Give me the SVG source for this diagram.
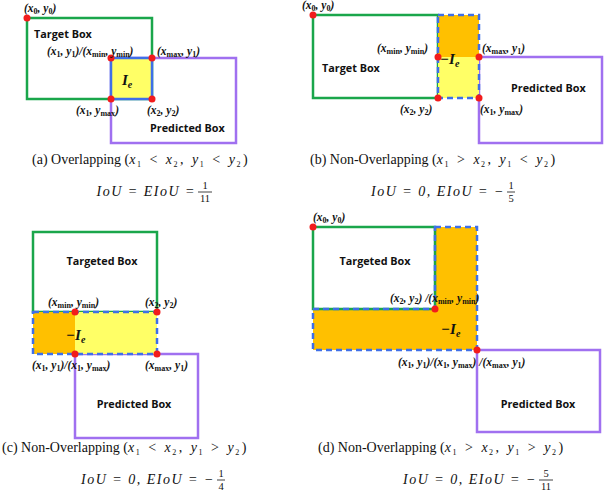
<svg xmlns="http://www.w3.org/2000/svg" width="604" height="498" viewBox="0 0 604 498">
<style>
.g{fill:none;stroke:#1aa64b;stroke-width:2.5}
.p{fill:none;stroke:#a070f0;stroke-width:2.5}
.bs{fill:none;stroke:#3f6fe8;stroke-width:2.5}
.bd{fill:none;stroke:#3f6fe8;stroke-width:2.5;stroke-dasharray:6,4}
.y{fill:#ffff66}.o{fill:#ffc000}
.dot{fill:#f21c1c}
.nm{font-family:"Open Sans","Liberation Sans",sans-serif;font-weight:bold;font-size:10.8px;fill:#111}
.c{font-family:"Liberation Serif",serif;font-style:italic;font-weight:bold;font-size:11.5px;fill:#111}
.ie{font-family:"Liberation Serif",serif;font-style:italic;font-weight:bold;font-size:15px;fill:#111}
.cap{font-family:"Liberation Serif",serif;font-size:14px;fill:#111}
.mm{letter-spacing:2.5px}
.m{font-family:"Liberation Serif",serif;font-style:italic;font-size:14px;letter-spacing:1.5px;fill:#111}
.s{font-size:8px;font-style:normal}
.fr{font-family:"Liberation Serif",serif;font-size:10.5px;fill:#111;text-anchor:middle}
</style>
<g id="panel-a">
<rect class="g" x="27" y="18" width="125" height="81"/>
<rect class="p" x="111" y="58" width="125" height="85"/>
<rect class="y" x="111" y="58" width="41" height="41"/>
<rect class="bs" x="111" y="58" width="41" height="41"/>
<circle class="dot" cx="27" cy="18" r="3.5"/><circle class="dot" cx="111" cy="58" r="3.5"/><circle class="dot" cx="152" cy="58" r="3.5"/><circle class="dot" cx="111" cy="99" r="3.5"/><circle class="dot" cx="152" cy="99" r="3.5"/>
<text class="c" x="24" y="12">(x<tspan class="s" dy="2">0</tspan><tspan dy="-2">, y</tspan><tspan class="s" dy="2">0</tspan><tspan dy="-2">)</tspan></text>
<text class="nm" x="34" y="38">Target Box</text>
<text class="c" x="47" y="55">(x<tspan class="s" dy="2">1</tspan><tspan dy="-2">, y</tspan><tspan class="s" dy="2">1</tspan><tspan dy="-2">)/(x</tspan><tspan class="s" dy="2">min</tspan><tspan dy="-2">, y</tspan><tspan class="s" dy="2">min</tspan><tspan dy="-2">)</tspan></text>
<text class="c" x="157" y="55">(x<tspan class="s" dy="2">max</tspan><tspan dy="-2">, y</tspan><tspan class="s" dy="2">1</tspan><tspan dy="-2">)</tspan></text>
<text class="ie" x="122" y="85">I<tspan font-size="10" dy="3">e</tspan></text>
<text class="c" x="76" y="114">(x<tspan class="s" dy="2">1</tspan><tspan dy="-2">, y</tspan><tspan class="s" dy="2">max</tspan><tspan dy="-2">)</tspan></text>
<text class="c" x="147" y="114">(x<tspan class="s" dy="2">2</tspan><tspan dy="-2">, y</tspan><tspan class="s" dy="2">2</tspan><tspan dy="-2">)</tspan></text>
<text class="nm" x="150" y="132">Predicted Box</text>
</g>
<g id="panel-b">
<rect class="g" x="313" y="15" width="125" height="83"/>
<rect class="p" x="479" y="57" width="123" height="86"/>
<rect class="o" x="438" y="15" width="41" height="42"/>
<rect class="y" x="438" y="57" width="41" height="41"/>
<rect class="bd" x="438" y="15" width="41" height="83"/>
<circle class="dot" cx="313" cy="15" r="3.5"/><circle class="dot" cx="438" cy="57" r="3.5"/><circle class="dot" cx="479" cy="57" r="3.5"/><circle class="dot" cx="438" cy="98" r="3.5"/><circle class="dot" cx="479" cy="98" r="3.5"/>
<text class="c" x="302" y="9">(x<tspan class="s" dy="2">0</tspan><tspan dy="-2">, y</tspan><tspan class="s" dy="2">0</tspan><tspan dy="-2">)</tspan></text>
<text class="c" x="377" y="52">(x<tspan class="s" dy="2">min</tspan><tspan dy="-2">, y</tspan><tspan class="s" dy="2">min</tspan><tspan dy="-2">)</tspan></text>
<text class="c" x="482" y="52">(x<tspan class="s" dy="2">max</tspan><tspan dy="-2">, y</tspan><tspan class="s" dy="2">1</tspan><tspan dy="-2">)</tspan></text>
<text class="ie" x="440" y="64">−I<tspan font-size="10" dy="3">e</tspan></text>
<text class="nm" x="322" y="72">Target Box</text>
<text class="nm" x="511" y="92">Predicted Box</text>
<text class="c" x="400" y="113">(x<tspan class="s" dy="2">2</tspan><tspan dy="-2">, y</tspan><tspan class="s" dy="2">2</tspan><tspan dy="-2">)</tspan></text>
<text class="c" x="480" y="113">(x<tspan class="s" dy="2">1</tspan><tspan dy="-2">, y</tspan><tspan class="s" dy="2">max</tspan><tspan dy="-2">)</tspan></text>
</g>
<g id="panel-c">
<rect class="g" x="33" y="232" width="124" height="80"/>
<rect class="p" x="75" y="354" width="123" height="84"/>
<rect class="o" x="33" y="312" width="42" height="42"/>
<rect class="y" x="75" y="312" width="82" height="42"/>
<rect class="bd" x="33" y="312" width="124" height="42"/>
<circle class="dot" cx="75" cy="312" r="3.5"/><circle class="dot" cx="157" cy="312" r="3.5"/><circle class="dot" cx="75" cy="354" r="3.5"/><circle class="dot" cx="157" cy="354" r="3.5"/>
<text class="nm" x="102" y="265" text-anchor="middle">Targeted Box</text>
<text class="c" x="48" y="306">(x<tspan class="s" dy="2">min</tspan><tspan dy="-2">, y</tspan><tspan class="s" dy="2">min</tspan><tspan dy="-2">)</tspan></text>
<text class="c" x="145" y="306">(x<tspan class="s" dy="2">2</tspan><tspan dy="-2">, y</tspan><tspan class="s" dy="2">2</tspan><tspan dy="-2">)</tspan></text>
<text class="ie" x="66" y="340">−I<tspan font-size="10" dy="3">e</tspan></text>
<text class="c" x="32" y="369">(x<tspan class="s" dy="2">1</tspan><tspan dy="-2">, y</tspan><tspan class="s" dy="2">1</tspan><tspan dy="-2">)/(x</tspan><tspan class="s" dy="2">1</tspan><tspan dy="-2">, y</tspan><tspan class="s" dy="2">max</tspan><tspan dy="-2">)</tspan></text>
<text class="c" x="145" y="369">(x<tspan class="s" dy="2">max</tspan><tspan dy="-2">, y</tspan><tspan class="s" dy="2">1</tspan><tspan dy="-2">)</tspan></text>
<text class="nm" x="134" y="408" text-anchor="middle">Predicted Box</text>
</g>
<g id="panel-d">
<rect class="p" x="477" y="350" width="123" height="82"/>
<path class="o" d="M313 227H477V350H313Z"/>
<rect x="313" y="227" width="122" height="82" fill="#fff"/>
<rect class="g" x="313" y="227" width="122" height="82"/>
<path class="bd" d="M435 227H477V350H313V309H435Z"/>
<circle class="dot" cx="313" cy="227" r="3.5"/><circle class="dot" cx="435" cy="309" r="3.5"/><circle class="dot" cx="477" cy="350" r="3.5"/>
<text class="c" x="313" y="221">(x<tspan class="s" dy="2">0</tspan><tspan dy="-2">, y</tspan><tspan class="s" dy="2">0</tspan><tspan dy="-2">)</tspan></text>
<text class="nm" x="375" y="265" text-anchor="middle">Targeted Box</text>
<text class="c" x="390" y="302">(x<tspan class="s" dy="2">2</tspan><tspan dy="-2">, y</tspan><tspan class="s" dy="2">2</tspan><tspan dy="-2">) /(x</tspan><tspan class="s" dy="2">min</tspan><tspan dy="-2">, y</tspan><tspan class="s" dy="2">min</tspan><tspan dy="-2">)</tspan></text>
<text class="ie" x="441" y="334">−I<tspan font-size="10" dy="3">e</tspan></text>
<text class="c" x="398" y="366">(x<tspan class="s" dy="2">1</tspan><tspan dy="-2">, y</tspan><tspan class="s" dy="2">1</tspan><tspan dy="-2">)/(x</tspan><tspan class="s" dy="2">1</tspan><tspan dy="-2">, y</tspan><tspan class="s" dy="2">max</tspan><tspan dy="-2">) /(x</tspan><tspan class="s" dy="2">max</tspan><tspan dy="-2">, y</tspan><tspan class="s" dy="2">1</tspan><tspan dy="-2">)</tspan></text>
<text class="nm" x="538" y="408" text-anchor="middle">Predicted Box</text>
</g>
<g id="captions">
<text class="cap" x="32" y="164">(a) Overlapping (<tspan class="mm"><tspan class="m">x</tspan><tspan class="s" dy="3">1</tspan><tspan dy="-3"> &lt; </tspan><tspan class="m">x</tspan><tspan class="s" dy="3">2</tspan><tspan dy="-3">, </tspan><tspan class="m">y</tspan><tspan class="s" dy="3">1</tspan><tspan dy="-3"> &lt; </tspan><tspan class="m">y</tspan><tspan class="s" dy="3">2</tspan></tspan><tspan dy="-3">)</tspan></text>
<text class="m" x="196" y="196" text-anchor="end">IoU = EIoU = </text>
<text class="fr" x="205" y="189">1</text><line x1="198" y1="192" x2="212" y2="192" stroke="#111" stroke-width="0.8"/><text class="fr" x="205" y="202">11</text>
<text class="cap" x="310" y="164">(b) Non-Overlapping (<tspan class="mm"><tspan class="m">x</tspan><tspan class="s" dy="3">1</tspan><tspan dy="-3"> &gt; </tspan><tspan class="m">x</tspan><tspan class="s" dy="3">2</tspan><tspan dy="-3">, </tspan><tspan class="m">y</tspan><tspan class="s" dy="3">1</tspan><tspan dy="-3"> &lt; </tspan><tspan class="m">y</tspan><tspan class="s" dy="3">2</tspan></tspan><tspan dy="-3">)</tspan></text>
<text class="m" x="505" y="196" text-anchor="end">IoU = 0, EIoU = −</text>
<text class="fr" x="511" y="189">1</text><line x1="507" y1="192" x2="515" y2="192" stroke="#111" stroke-width="0.8"/><text class="fr" x="511" y="202">5</text>
<text class="cap" x="2" y="452">(c) Non-Overlapping (<tspan class="mm"><tspan class="m">x</tspan><tspan class="s" dy="3">1</tspan><tspan dy="-3"> &lt; </tspan><tspan class="m">x</tspan><tspan class="s" dy="3">2</tspan><tspan dy="-3">, </tspan><tspan class="m">y</tspan><tspan class="s" dy="3">1</tspan><tspan dy="-3"> &gt; </tspan><tspan class="m">y</tspan><tspan class="s" dy="3">2</tspan></tspan><tspan dy="-3">)</tspan></text>
<text class="m" x="215" y="484" text-anchor="end">IoU = 0, EIoU = −</text>
<text class="fr" x="221" y="477">1</text><line x1="217" y1="480" x2="225" y2="480" stroke="#111" stroke-width="0.8"/><text class="fr" x="221" y="490">4</text>
<text class="cap" x="318" y="452">(d) Non-Overlapping (<tspan class="mm"><tspan class="m">x</tspan><tspan class="s" dy="3">1</tspan><tspan dy="-3"> &gt; </tspan><tspan class="m">x</tspan><tspan class="s" dy="3">2</tspan><tspan dy="-3">, </tspan><tspan class="m">y</tspan><tspan class="s" dy="3">1</tspan><tspan dy="-3"> &gt; </tspan><tspan class="m">y</tspan><tspan class="s" dy="3">2</tspan></tspan><tspan dy="-3">)</tspan></text>
<text class="m" x="537" y="484" text-anchor="end">IoU = 0, EIoU = −</text>
<text class="fr" x="546" y="477">5</text><line x1="539" y1="480" x2="553" y2="480" stroke="#111" stroke-width="0.8"/><text class="fr" x="546" y="490">11</text>
</g>
</svg>
